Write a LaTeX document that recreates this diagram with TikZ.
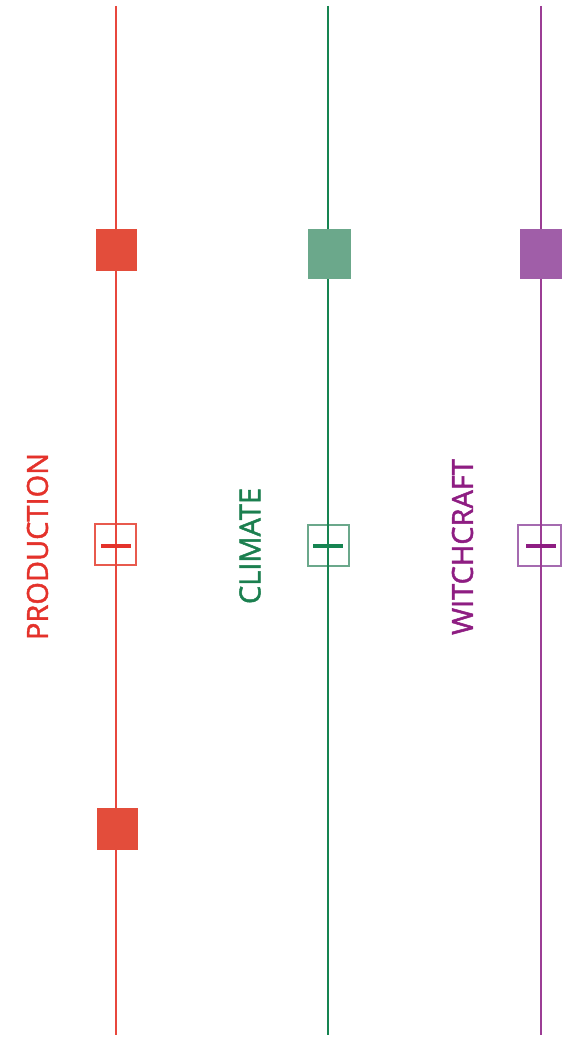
\documentclass[tikz,border=0pt]{standalone}
\usepackage{fontspec}
\setmainfont{Open Sans}
\newfontfamily\lblfont{Open Sans}[FakeBold=1.6]
\definecolor{redline}{HTML}{E8473D}
\definecolor{redfill}{HTML}{E34D3B}
\definecolor{redtext}{HTML}{E4322B}
\definecolor{redbox}{HTML}{E85A4E}
\definecolor{greenline}{HTML}{168451}
\definecolor{greenfill}{HTML}{6BA88B}
\definecolor{greentext}{HTML}{1B7F4F}
\definecolor{purpleline}{HTML}{9C3D95}
\definecolor{purplefill}{HTML}{A05EA8}
\definecolor{purpletext}{HTML}{8E1D82}
\definecolor{purplebox}{HTML}{A56BB0}
\tikzset{
  axis/.style={line width=2pt},
  filledbox/.style={draw=none,minimum width=41pt,minimum height=42pt,inner sep=0pt,outer sep=0pt},
  hollowbox/.style={draw,line width=2pt,minimum width=41pt,minimum height=41pt,inner sep=0pt},
  bar/.style={draw=none,minimum width=30pt,minimum height=4pt,inner sep=0pt},
  lbl/.style={rotate=90,inner sep=0pt,font=\lblfont\fontsize{29}{29}\selectfont}
}
\begin{document}
\begin{tikzpicture}[x=1pt,y=-1pt]
\useasboundingbox (0,0) rectangle (588,1051);
% red
\node[hollowbox,draw=redbox] (r2) at (115.5,544.5) {};
\coordinate (rtop) at (116,6);
\coordinate (rbot) at (116,1035);
\draw[axis,redline] (rtop) -- (rbot);
\node[filledbox,fill=redfill] (r1) at (116.5,250) {};
\node[bar,fill=redtext] (r2b) at (116,546) {};
\node[filledbox,fill=redfill] (r3) at (117,829) {};
\node[lbl,text=redtext] (rl) at (37.5,546.5) {PRODUCTION};
% green
\node[hollowbox,draw=greenfill] (g2) at (328,545) {};
\coordinate (gtop) at (328,6);
\coordinate (gbot) at (328,1035);
\draw[axis,greenline] (gtop) -- (gbot);
\node[filledbox,fill=greenfill,minimum width=43pt,minimum height=50pt] (g1) at (329.5,254) {};
\node[bar,fill=greenline] (g2b) at (328,546) {};
\node[lbl,text=greentext] (gl) at (250,546) {CLIMATE};
% purple
\node[hollowbox,draw=purplebox,minimum width=43pt] (p2) at (539.5,545) {};
\coordinate (ptop) at (541,6);
\coordinate (pbot) at (541,1035);
\draw[axis,purpleline] (ptop) -- (pbot);
\node[filledbox,fill=purplefill,minimum width=42pt,minimum height=50pt] (p1) at (541,254) {};
\node[bar,fill=purpletext] (p2b) at (541,546) {};
\node[lbl,text=purpletext] (pl) at (462.5,547) {WITCHCRAFT};
\end{tikzpicture}
\end{document}
